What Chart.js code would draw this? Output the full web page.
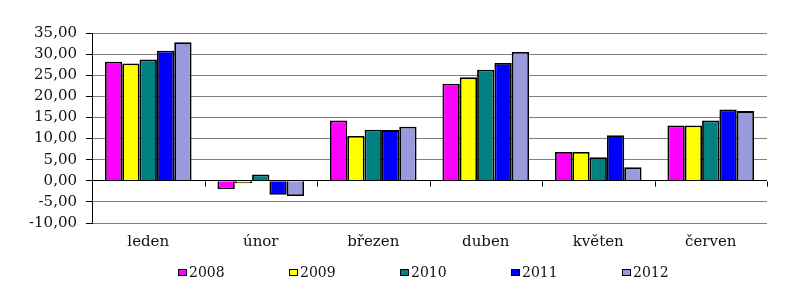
<!DOCTYPE html>
<html>
<head>
<meta charset="utf-8">
<script src="https://cdn.jsdelivr.net/npm/chart.js@4.4.1/dist/chart.umd.min.js"></script>
<style>
html,body{margin:0;padding:0;background:#fff;}
#wrap{width:806px;height:303px;}
</style>
</head>
<body>
<div id="wrap"><canvas id="c" width="806" height="303"></canvas></div>
<script>
const categories = ['leden', 'únor', 'březen', 'duben', 'květen', 'červen'];
const seriesNames = ['2008', '2009', '2010', '2011', '2012'];
const v2008 = [28.2, -2.0, 14.3, 23.0, 6.8, 13.1];
const v2009 = [27.8, -0.6, 10.6, 24.5, 6.8, 13.1];
const v2010 = [28.7, 1.5, 12.1, 26.3, 5.6, 14.3];
const v2011 = [30.8, -3.3, 12.0, 27.9, 10.8, 16.9];
const v2012 = [32.8, -3.6, 12.8, 30.5, 3.2, 16.5];
const yTicksMin = -10, yTicksMax = 35, yStep = 5;

const colors = ['#FF00FF', '#FFFF00', '#008080', '#0000FF', '#9999DD'];
const values = [v2008, v2009, v2010, v2011, v2012];
const FONT = "'DejaVu Serif', 'Liberation Serif', serif";

const extras = {
  id: 'extras',
  afterDatasetsDraw(chart) {
    const ctx = chart.ctx;
    const y = chart.scales.y;
    const y0 = Math.round(y.getPixelForValue(0)) + 0.5;
    ctx.save();
    ctx.strokeStyle = '#000';
    ctx.lineWidth = 1;
    const n = categories.length;
    const w = (chart.chartArea.right - chart.chartArea.left) / n;
    for (let i = 1; i <= n; i++) {
      const px = Math.round(chart.chartArea.left + i * w) + 0.5;
      ctx.beginPath();
      ctx.moveTo(px, y0);
      ctx.lineTo(px, y0 + 5);
      ctx.stroke();
    }
    // legend
    ctx.font = '14px ' + FONT;
    ctx.textBaseline = 'middle';
    ctx.textAlign = 'left';
    const ly = 272;
    chart.data.datasets.forEach((ds, i) => {
      const bx = 178 + i * 111;
      ctx.fillStyle = ds.backgroundColor;
      ctx.fillRect(bx, ly - 3, 8, 6);
      ctx.strokeStyle = '#000';
      ctx.strokeRect(bx + 0.5, ly - 3 + 0.5, 8, 6);
      ctx.fillStyle = '#111';
      ctx.fillText(ds.label, bx + 11, ly + 1);
    });
    ctx.restore();
  }
};

new Chart(document.getElementById('c'), {
  type: 'bar',
  data: {
    labels: categories,
    datasets: seriesNames.map((name, i) => ({
      label: name,
      data: values[i],
      backgroundColor: colors[i],
      borderColor: '#000',
      borderWidth: 1.8,
      categoryPercentage: 0.77,
      barPercentage: 1.0
    }))
  },
  options: {
    responsive: false,
    animation: false,
    layout: { padding: { top: 33, right: 39, bottom: 0, left: 0 } },
    plugins: { legend: { display: false }, tooltip: { enabled: false } },
    scales: {
      x: {
        grid: { display: false },
        border: { display: false },
        ticks: { color: '#111', font: { family: FONT, size: 15 }, padding: 2, maxRotation: 0 },
        afterFit(scale) { scale.height = 80; }
      },
      y: {
        min: yTicksMin,
        max: yTicksMax,
        ticks: {
          stepSize: yStep,
          color: '#111',
          padding: 9,
          font: { family: FONT, size: 15 },
          callback: v => Number(v).toFixed(2).replace('.', ',')
        },
        grid: {
          color: c => (c.tick && c.tick.value === 0) ? '#000' : '#808080',
          tickColor: '#000',
          tickLength: 6,
          lineWidth: 1
        },
        border: { display: true, color: '#000', width: 1 },
        afterFit(scale) { scale.width = 92; }
      }
    }
  },
  plugins: [extras]
});
</script>
</body>
</html>
